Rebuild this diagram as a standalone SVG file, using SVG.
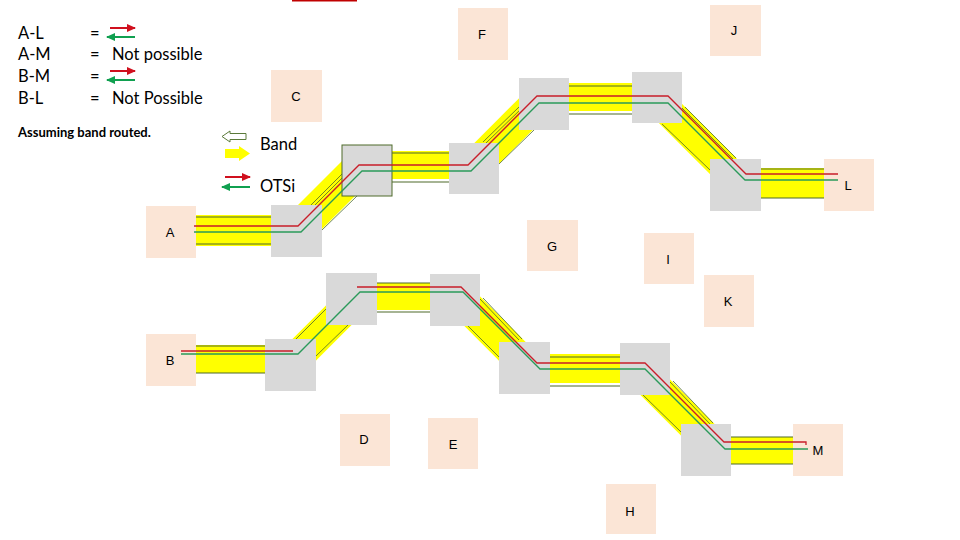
<svg xmlns="http://www.w3.org/2000/svg" width="960" height="540" viewBox="0 0 960 540">
<defs>
<style>
.lg{font-family:"Lato","Liberation Sans",sans-serif;font-size:16.5px;fill:#000}
.nb{font-family:"Liberation Sans",Arial,sans-serif;font-size:13px;fill:#000;text-anchor:middle}
.peach{fill:#FBE5D6}
.gray{fill:#D9D9D9}
.band{fill:#FFFF00}
.bandd{stroke:#FFFF00;fill:none;stroke-linecap:butt}
.ol{stroke:#4E6B2A;stroke-width:1.2;fill:none}
.olt{stroke:#4E6B2A;stroke-width:0.8;fill:none}
.red{stroke:#C81E2A;stroke-width:1.3;fill:none}
.grn{stroke:#2A9A5A;stroke-width:1.3;fill:none}
</style>
<marker id="hr" markerWidth="9" markerHeight="8" refX="8" refY="4" orient="auto" markerUnits="userSpaceOnUse"><path d="M0,0 L9,4 L0,8 Z" fill="#D0101E"/></marker>
<marker id="hg" markerWidth="9" markerHeight="8" refX="8" refY="4" orient="auto" markerUnits="userSpaceOnUse"><path d="M0,0 L9,4 L0,8 Z" fill="#10A050"/></marker>
</defs>
<rect width="960" height="540" fill="#FFFFFF"/>
<line x1="292" y1="0.8" x2="357" y2="0.8" stroke="#C00000" stroke-width="1.6"/>

<g id="legend">
<text class="lg" x="18" y="39">A-L</text>
<text class="lg" x="18" y="60">A-M</text>
<text class="lg" x="18" y="82">B-M</text>
<text class="lg" x="18" y="104">B-L</text>
<text class="lg" x="90" y="39">=</text>
<text class="lg" x="90" y="60">=</text>
<text class="lg" x="90" y="82">=</text>
<text class="lg" x="90" y="104">=</text>
<text class="lg" x="112" y="60">Not possible</text>
<text class="lg" x="112" y="104">Not Possible</text>
<line x1="110" y1="28" x2="135" y2="28" stroke="#D0101E" stroke-width="2" marker-end="url(#hr)"/>
<line x1="135" y1="37" x2="107" y2="37" stroke="#10A050" stroke-width="2" marker-end="url(#hg)"/>
<line x1="110" y1="71" x2="135" y2="71" stroke="#D0101E" stroke-width="2" marker-end="url(#hr)"/>
<line x1="135" y1="80" x2="107" y2="80" stroke="#10A050" stroke-width="2" marker-end="url(#hg)"/>
<text x="18" y="137" style="font-family:'Lato','Liberation Sans',sans-serif;font-size:13px;font-weight:bold">Assuming band routed.</text>
<polygon points="222,136.5 230,131 230,133.5 246,133.5 246,139.5 230,139.5 230,142" fill="#FFFFFF" stroke="#5B7A3A" stroke-width="1"/>
<polygon points="225,149 239,149 239,146 250,153.5 239,161 239,158 225,158" fill="#FFFF00"/>
<text class="lg" x="260" y="150">Band</text>
<line x1="225" y1="177" x2="250" y2="177" stroke="#D0101E" stroke-width="2" marker-end="url(#hr)"/>
<line x1="250" y1="187" x2="222" y2="187" stroke="#10A050" stroke-width="2" marker-end="url(#hg)"/>
<text class="lg" x="260" y="192">OTSi</text>
</g>

<g id="bands">
<rect class="band" x="196" y="215" width="78" height="31"/>
<rect class="band" x="390" y="151" width="62" height="28"/>
<rect class="band" x="567" y="83" width="68" height="28"/>
<rect class="band" x="758" y="168" width="68" height="30"/>
<line class="bandd" x1="290" y1="237" x2="369" y2="158" stroke-width="34"/>
<line class="bandd" x1="468" y1="172" x2="550" y2="90" stroke-width="32"/>
<line class="bandd" x1="647" y1="90" x2="747" y2="190" stroke-width="30"/>
<rect class="band" x="196" y="345" width="72" height="28"/>
<rect class="band" x="375" y="283" width="58" height="27"/>
<rect class="band" x="548" y="354" width="75" height="29"/>
<rect class="band" x="729" y="437" width="66" height="27"/>
<line class="bandd" x1="288" y1="366" x2="364" y2="290" stroke-width="32"/>
<line class="bandd" x1="451" y1="290" x2="537" y2="376" stroke-width="32"/>
<line class="bandd" x1="630" y1="362" x2="725" y2="457" stroke-width="32"/>
<path class="ol" d="M196,217H271M196,244H271M392,153H449M392,182H449M569,86H632M569,114H632M761,169H824M761,198H824"/>
<path class="ol" d="M196,346H265M196,373H265M377,283H430M377,312H430M550,357H620M550,386H620M731,437H793M731,464H793"/>
<path class="olt" d="M310,206L342,174M313,207L345,175M322,230L357,196M483,142L519,107M486,143L522,108M499,164L534,130M682,108L733,159M685,107L736,158M662,124L710,170"/>
<path class="olt" d="M296,339L326,309M316,356L348,325M480,299L519,340M483,298L522,339M468,326L499,357M670,382L710,424M673,381L713,423M643,395L681,432"/>
</g>

<g id="switches">
<rect id="s1" class="gray" x="271" y="205" width="51" height="52"/>
<rect id="s2" class="gray" x="342" y="145" width="50" height="51" stroke="#4E6B2A" stroke-width="1"/>
<rect id="s3" class="gray" x="449" y="143" width="50" height="51"/>
<rect id="s4" class="gray" x="519" y="78" width="50" height="52"/>
<rect id="s5" class="gray" x="632" y="72" width="50" height="51"/>
<rect id="s6" class="gray" x="710" y="159" width="51" height="52"/>
<rect id="s7" class="gray" x="265" y="339" width="51" height="52"/>
<rect id="s8" class="gray" x="326" y="273" width="51" height="52"/>
<rect id="s9" class="gray" x="430" y="274" width="50" height="52"/>
<rect id="s10" class="gray" x="499" y="342" width="51" height="52"/>
<rect id="s11" class="gray" x="620" y="343" width="50" height="52"/>
<rect id="s12" class="gray" x="681" y="424" width="50" height="52"/>
</g>

<g id="A"><rect class="peach" x="146" y="206" width="50" height="52"/><text class="nb" x="170" y="237">A</text></g>
<g id="B"><rect class="peach" x="146" y="334" width="50" height="52"/><text class="nb" x="170" y="365">B</text></g>
<g id="C"><rect class="peach" x="271" y="70" width="51" height="52"/><text class="nb" x="296" y="101">C</text></g>
<g id="D"><rect class="peach" x="340" y="414" width="50" height="52"/><text class="nb" x="364" y="444">D</text></g>
<g id="E"><rect class="peach" x="428" y="418" width="50" height="51"/><text class="nb" x="453" y="449">E</text></g>
<g id="F"><rect class="peach" x="458" y="8" width="50" height="52"/><text class="nb" x="482" y="39">F</text></g>
<g id="G"><rect class="peach" x="527" y="220" width="51" height="51"/><text class="nb" x="552" y="251">G</text></g>
<g id="H"><rect class="peach" x="606" y="484" width="50" height="50"/><text class="nb" x="630" y="516">H</text></g>
<g id="I"><rect class="peach" x="644" y="233" width="50" height="51"/><text class="nb" x="668" y="264">I</text></g>
<g id="J"><rect class="peach" x="710" y="5" width="51" height="51"/><text class="nb" x="734" y="35">J</text></g>
<g id="K"><rect class="peach" x="704" y="275" width="50" height="52"/><text class="nb" x="728" y="306">K</text></g>
<g id="L"><rect class="peach" x="824" y="159" width="50" height="52"/><text class="nb" x="848" y="190">L</text></g>
<g id="M"><rect class="peach" x="793" y="424" width="50" height="52"/><text class="nb" x="818" y="455">M</text></g>

<g id="connectors">
<path class="red" d="M194,226H298L359,165H468L537,96H668L746,174H838"/>
<path class="grn" d="M194,232H301L362,171H471L539,103H668L745,180H838"/>
<path class="red" d="M181,351H293"/>
<path class="red" d="M357,287H461L537,363H645L724,442H806V445"/>
<path class="grn" d="M181,354H298L360,292H463L540,369H645L725,449H808"/>
</g>
</svg>
